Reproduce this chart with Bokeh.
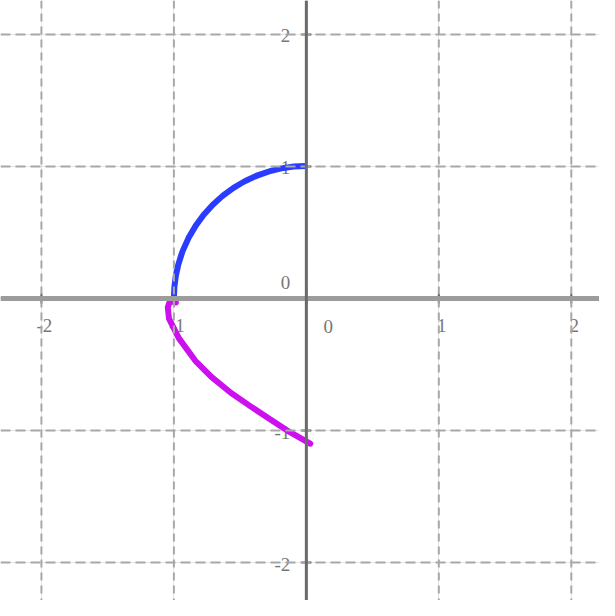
from bokeh.plotting import figure
from bokeh.models import Range1d, Span
from bokeh.core.properties import value
from bokeh.embed import file_html
from bokeh.resources import INLINE
import math

# --- data ---
x_ticks = [-2, -1, 0, 1, 2]
y_ticks = [-2, -1, 0, 1, 2]
x_tick_labels = ["-2", "-1", "0", "1", "2"]
y_tick_labels = ["-2", "-1", "0", "1", "2"]

# blue curve: quarter of the unit circle (centre, radius, angles)
arc_cx = [0.0]
arc_cy = [0.0]
arc_r = [1.0]
arc_start = [math.pi / 2]
arc_end = [math.pi]

# magenta hand-drawn curve
mag_x = [-0.985, -1.03, -1.046, -1.037, -0.963, -0.838, -0.715, -0.568, -0.421, -0.274, -0.127, 0.029]
mag_y = [-0.03, -0.02, -0.066, -0.153, -0.300, -0.472, -0.596, -0.716, -0.817, -0.915, -1.011, -1.100]

p = figure(width=599, height=600, output_backend="svg", toolbar_location=None,
           x_range=Range1d(-2.309, 2.213), y_range=Range1d(-2.288, 2.258),
           x_axis_location=None, y_axis_location=None, min_border=0)
p.outline_line_color = None
p.background_fill_color = "white"
p.border_fill_color = "white"

# grid lines
for t in x_ticks:
    p.add_layout(Span(location=t, dimension="height", line_color="#a8a8a8",
                      line_width=2, line_dash="8 5"))
for t in y_ticks:
    p.add_layout(Span(location=t, dimension="width", line_color="#a8a8a8",
                      line_width=2, line_dash="10 5"))

# axes
p.add_layout(Span(location=0, dimension="width", line_color="#9c9c9c", line_width=5))
p.add_layout(Span(location=0, dimension="height", line_color="#6a6a6a", line_width=3))

# tick marks
p.scatter(x_ticks, [0] * len(x_ticks), marker="dash", angle=math.pi / 2, size=10,
          line_color="#555555", line_width=2)
p.scatter([0] * len(y_ticks), y_ticks, marker="dash", size=10,
          line_color="#555555", line_width=2)

font = value("Liberation Serif")
# x tick labels (skip 0, drawn separately)
xl = [(t, s) for t, s in zip(x_ticks, x_tick_labels) if t != 0]
p.text([t for t, _ in xl], [0] * len(xl), text=[s for _, s in xl], text_font=font,
       text_font_size="19px", text_color="#777777", text_align="center",
       text_baseline="middle", x_offset=3, y_offset=27)
p.text([0], [0], text=["0"], text_font=font, text_font_size="19px",
       text_color="#777777", text_align="center", text_baseline="middle",
       x_offset=22, y_offset=28)
# y tick labels
p.text([0] * len(y_ticks), y_ticks, text=y_tick_labels, text_font=font,
       text_font_size="19px", text_color="#777777", text_align="right",
       text_baseline="middle", x_offset=-16, y_offset=[2, 2, -16, 1, 1])

# curves
p.arc(x=arc_cx, y=arc_cy, radius=arc_r, start_angle=arc_start, end_angle=arc_end,
      line_color="#2a3cff", line_width=6)
p.line(mag_x, mag_y, line_color="#cc11ee", line_width=6, line_cap="round",
       line_join="round")

open("out.html", "w").write(file_html(p, INLINE))
